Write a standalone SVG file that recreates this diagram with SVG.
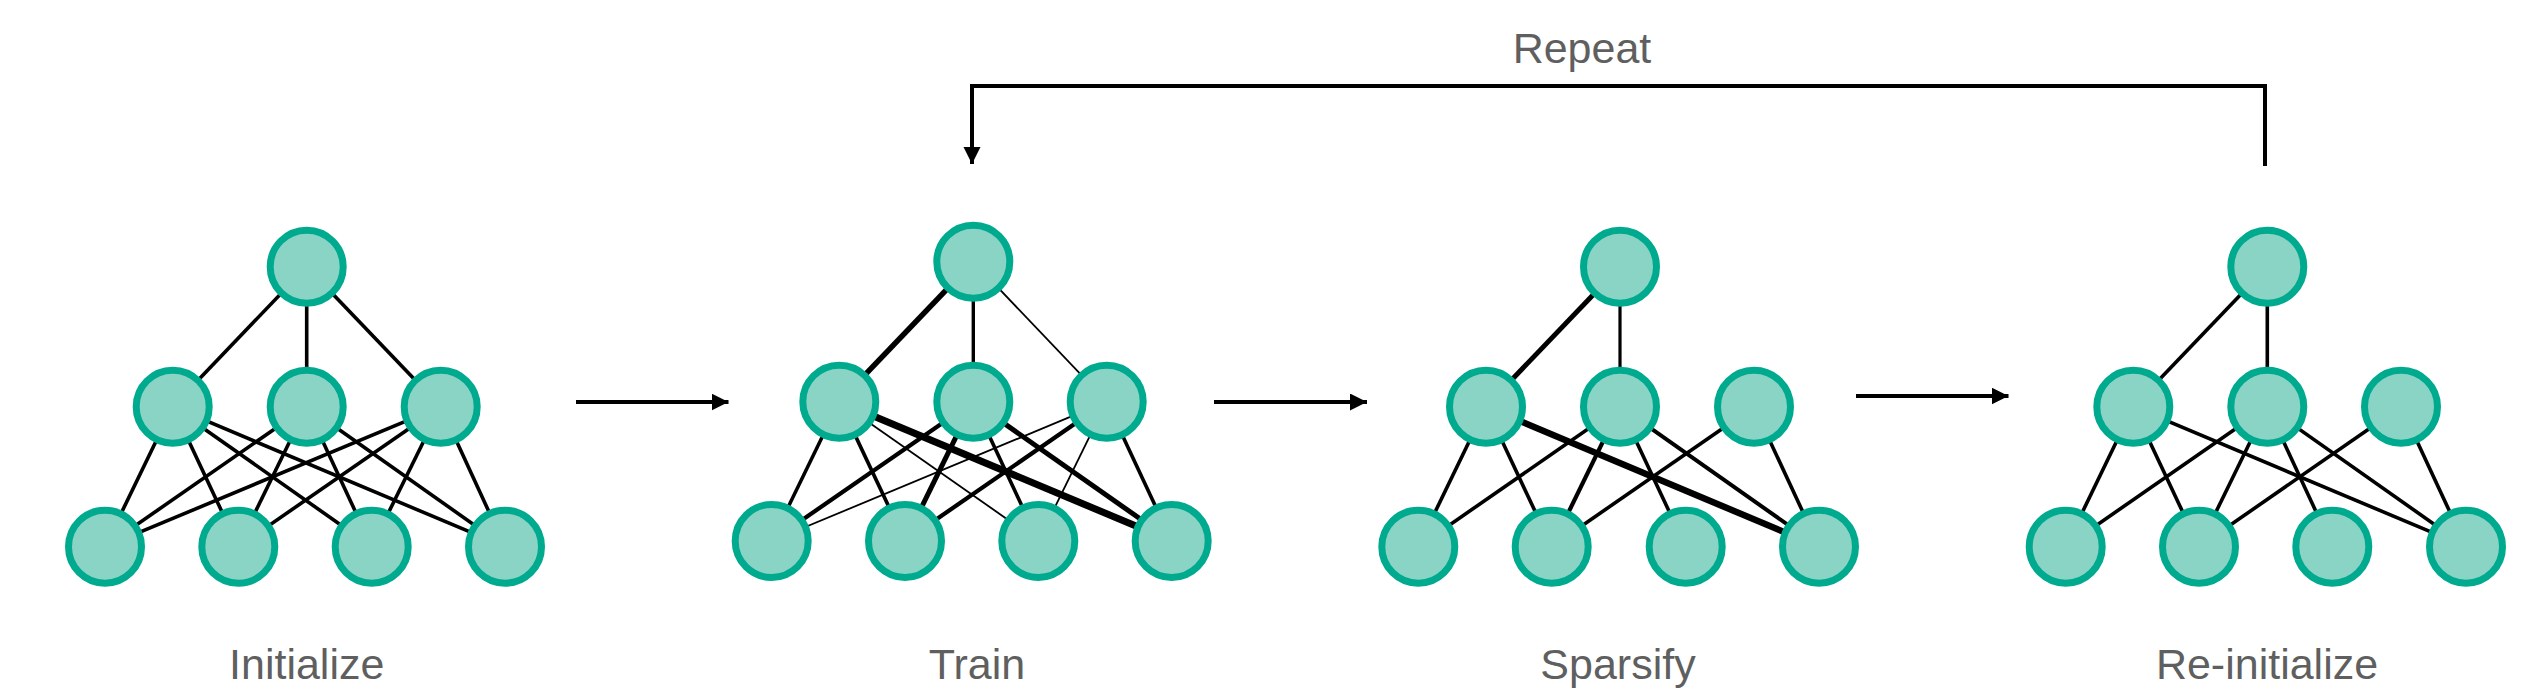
<svg xmlns="http://www.w3.org/2000/svg" width="2540" height="690" viewBox="0 0 2540 690">
<defs>
<style>
.n{fill:#8ad4c5;stroke:#00aa8e;stroke-width:7}
.e{stroke:#000;stroke-width:3.6;stroke-linecap:butt}
.a{stroke:#000;stroke-width:4;fill:none}
.t{font-family:"Liberation Sans",Arial,sans-serif;font-size:43px;fill:#5f5f5f;text-anchor:middle}
</style>
<marker id="ah" markerUnits="userSpaceOnUse" markerWidth="18" markerHeight="18" refX="17" refY="8.5" orient="auto">
<path d="M0,0 L17,8.5 L0,17 z" fill="#000"/>
</marker>
</defs>
<rect width="2540" height="690" fill="#fff"/>
<g id="connectors">
<!-- Network 1: Initialize -->
<g id="edges-initialize">
<line class="e" x1="306.7" y1="266.7" x2="172.7" y2="406.7"/>
<line class="e" x1="306.7" y1="266.7" x2="306.7" y2="406.7"/>
<line class="e" x1="306.7" y1="266.7" x2="440.7" y2="406.7"/>
<line class="e" x1="172.7" y1="406.7" x2="105" y2="546.7"/>
<line class="e" x1="172.7" y1="406.7" x2="238.3" y2="546.7"/>
<line class="e" x1="172.7" y1="406.7" x2="371.7" y2="546.7"/>
<line class="e" x1="172.7" y1="406.7" x2="505" y2="546.7"/>
<line class="e" x1="306.7" y1="406.7" x2="105" y2="546.7"/>
<line class="e" x1="306.7" y1="406.7" x2="238.3" y2="546.7"/>
<line class="e" x1="306.7" y1="406.7" x2="371.7" y2="546.7"/>
<line class="e" x1="306.7" y1="406.7" x2="505" y2="546.7"/>
<line class="e" x1="440.7" y1="406.7" x2="105" y2="546.7"/>
<line class="e" x1="440.7" y1="406.7" x2="238.3" y2="546.7"/>
<line class="e" x1="440.7" y1="406.7" x2="371.7" y2="546.7"/>
<line class="e" x1="440.7" y1="406.7" x2="505" y2="546.7"/>
</g>
<!-- Network 2: Train -->
<g id="edges-train">
<line class="e" style="stroke-width:5.5" x1="973.3" y1="261.7" x2="839.3" y2="401.7"/>
<line class="e" style="stroke-width:3.4" x1="973.3" y1="261.7" x2="973.3" y2="401.7"/>
<line class="e" style="stroke-width:1.8" x1="973.3" y1="261.7" x2="1106.7" y2="401.7"/>
<line class="e" style="stroke-width:3.5" x1="839.3" y1="401.7" x2="771.7" y2="541"/>
<line class="e" style="stroke-width:3.7" x1="839.3" y1="401.7" x2="905" y2="541"/>
<line class="e" style="stroke-width:1.8" x1="839.3" y1="401.7" x2="1038.3" y2="541"/>
<line class="e" style="stroke-width:7" x1="839.3" y1="401.7" x2="1171.7" y2="541"/>
<line class="e" style="stroke-width:4.2" x1="973.3" y1="401.7" x2="771.7" y2="541"/>
<line class="e" style="stroke-width:5" x1="973.3" y1="401.7" x2="905" y2="541"/>
<line class="e" style="stroke-width:3.6" x1="973.3" y1="401.7" x2="1038.3" y2="541"/>
<line class="e" style="stroke-width:5" x1="973.3" y1="401.7" x2="1171.7" y2="541"/>
<line class="e" style="stroke-width:1.8" x1="1106.7" y1="401.7" x2="771.7" y2="541"/>
<line class="e" style="stroke-width:4.2" x1="1106.7" y1="401.7" x2="905" y2="541"/>
<line class="e" style="stroke-width:1.8" x1="1106.7" y1="401.7" x2="1038.3" y2="541"/>
<line class="e" style="stroke-width:3.6" x1="1106.7" y1="401.7" x2="1171.7" y2="541"/>
</g>
<!-- Network 3: Sparsify -->
<g id="edges-sparsify">
<line class="e" style="stroke-width:5" x1="1620" y1="266.7" x2="1486" y2="406.7"/>
<line class="e" style="stroke-width:3.2" x1="1620" y1="266.7" x2="1620" y2="406.7"/>
<line class="e" x1="1486" y1="406.7" x2="1418.3" y2="546.7"/>
<line class="e" x1="1486" y1="406.7" x2="1551.7" y2="546.7"/>
<line class="e" style="stroke-width:6.5" x1="1486" y1="406.7" x2="1819" y2="546.7"/>
<line class="e" x1="1620" y1="406.7" x2="1418.3" y2="546.7"/>
<line class="e" style="stroke-width:4.2" x1="1620" y1="406.7" x2="1551.7" y2="546.7"/>
<line class="e" x1="1620" y1="406.7" x2="1685.7" y2="546.7"/>
<line class="e" style="stroke-width:4" x1="1620" y1="406.7" x2="1819" y2="546.7"/>
<line class="e" x1="1754" y1="406.7" x2="1551.7" y2="546.7"/>
<line class="e" x1="1754" y1="406.7" x2="1819" y2="546.7"/>
</g>
<!-- Network 4: Re-initialize -->
<g id="edges-reinitialize">
<line class="e" x1="2267.3" y1="266.7" x2="2133.3" y2="406.7"/>
<line class="e" x1="2267.3" y1="266.7" x2="2267.3" y2="406.7"/>
<line class="e" x1="2133.3" y1="406.7" x2="2065.7" y2="546.7"/>
<line class="e" x1="2133.3" y1="406.7" x2="2199" y2="546.7"/>
<line class="e" x1="2133.3" y1="406.7" x2="2466" y2="546.7"/>
<line class="e" x1="2267.3" y1="406.7" x2="2065.7" y2="546.7"/>
<line class="e" x1="2267.3" y1="406.7" x2="2199" y2="546.7"/>
<line class="e" x1="2267.3" y1="406.7" x2="2332.3" y2="546.7"/>
<line class="e" x1="2267.3" y1="406.7" x2="2466" y2="546.7"/>
<line class="e" x1="2401" y1="406.7" x2="2199" y2="546.7"/>
<line class="e" x1="2401" y1="406.7" x2="2466" y2="546.7"/>
</g>
<!-- Step arrows -->
<line class="a" x1="576" y1="402" x2="728.5" y2="402" marker-end="url(#ah)"/>
<line class="a" x1="1214" y1="402" x2="1367" y2="402" marker-end="url(#ah)"/>
<line class="a" x1="1856" y1="396" x2="2008.5" y2="396" marker-end="url(#ah)"/>
<!-- Repeat loop -->
<polyline class="a" points="2265,166 2265,86 972,86 972,164" marker-end="url(#ah)"/>
</g>
<g id="network-initialize">
<circle class="n" cx="306.7" cy="266.7" r="36.5"/>
<circle class="n" cx="172.7" cy="406.7" r="36.5"/>
<circle class="n" cx="306.7" cy="406.7" r="36.5"/>
<circle class="n" cx="440.7" cy="406.7" r="36.5"/>
<circle class="n" cx="105" cy="546.7" r="36.5"/>
<circle class="n" cx="238.3" cy="546.7" r="36.5"/>
<circle class="n" cx="371.7" cy="546.7" r="36.5"/>
<circle class="n" cx="505" cy="546.7" r="36.5"/>
<text class="t" x="306.7" y="679">Initialize</text>
</g>
<g id="network-train">
<circle class="n" cx="973.3" cy="261.7" r="36.5"/>
<circle class="n" cx="839.3" cy="401.7" r="36.5"/>
<circle class="n" cx="973.3" cy="401.7" r="36.5"/>
<circle class="n" cx="1106.7" cy="401.7" r="36.5"/>
<circle class="n" cx="771.7" cy="541" r="36.5"/>
<circle class="n" cx="905" cy="541" r="36.5"/>
<circle class="n" cx="1038.3" cy="541" r="36.5"/>
<circle class="n" cx="1171.7" cy="541" r="36.5"/>
<text class="t" x="977" y="679">Train</text>
</g>
<g id="network-sparsify">
<circle class="n" cx="1620" cy="266.7" r="36.5"/>
<circle class="n" cx="1486" cy="406.7" r="36.5"/>
<circle class="n" cx="1620" cy="406.7" r="36.5"/>
<circle class="n" cx="1754" cy="406.7" r="36.5"/>
<circle class="n" cx="1418.3" cy="546.7" r="36.5"/>
<circle class="n" cx="1551.7" cy="546.7" r="36.5"/>
<circle class="n" cx="1685.7" cy="546.7" r="36.5"/>
<circle class="n" cx="1819" cy="546.7" r="36.5"/>
<text class="t" x="1618" y="679">Sparsify</text>
</g>
<g id="network-reinitialize">
<circle class="n" cx="2267.3" cy="266.7" r="36.5"/>
<circle class="n" cx="2133.3" cy="406.7" r="36.5"/>
<circle class="n" cx="2267.3" cy="406.7" r="36.5"/>
<circle class="n" cx="2401" cy="406.7" r="36.5"/>
<circle class="n" cx="2065.7" cy="546.7" r="36.5"/>
<circle class="n" cx="2199" cy="546.7" r="36.5"/>
<circle class="n" cx="2332.3" cy="546.7" r="36.5"/>
<circle class="n" cx="2466" cy="546.7" r="36.5"/>
<text class="t" x="2267" y="679">Re-initialize</text>
</g>
<g id="label-repeat">
<text class="t" x="1582" y="62.5">Repeat</text>
</g>
</svg>
